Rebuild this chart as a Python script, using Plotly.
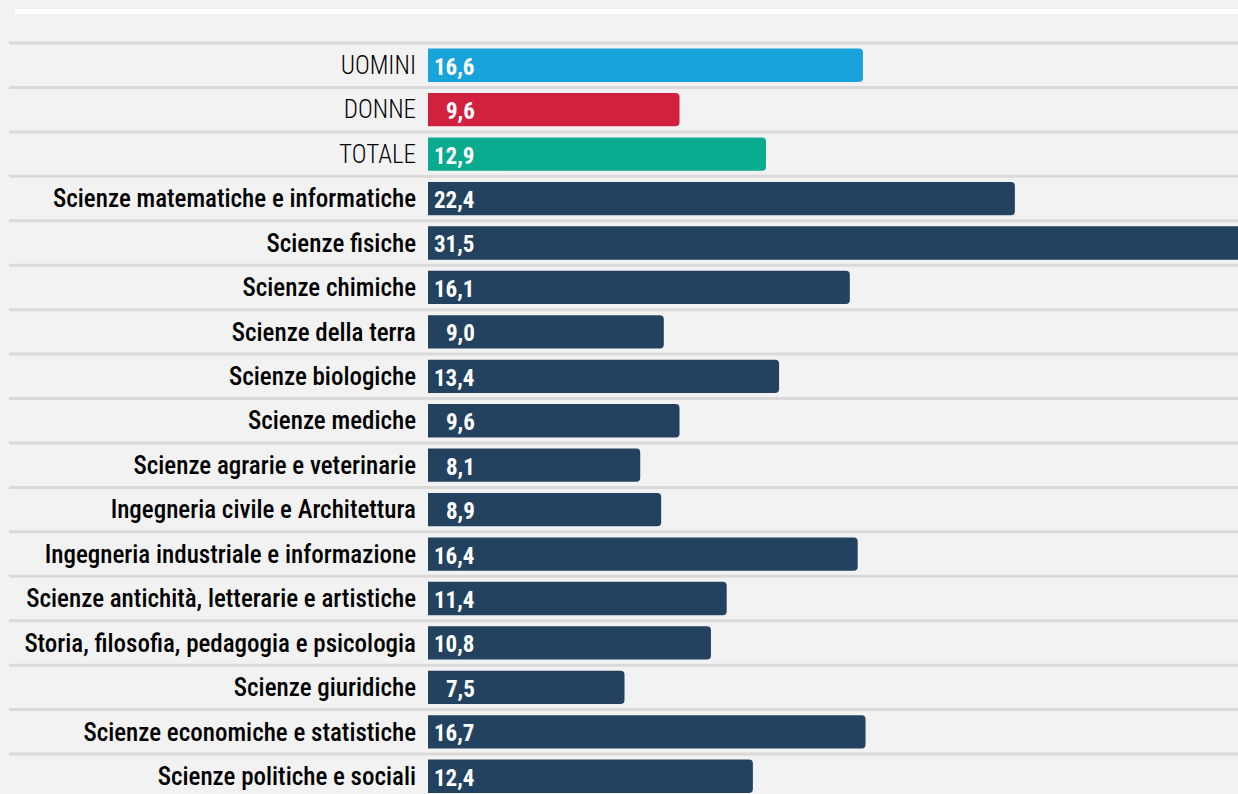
import plotly.graph_objects as go

categories = [
    "UOMINI", "DONNE", "TOTALE",
    "Scienze matematiche e informatiche",
    "Scienze fisiche",
    "Scienze chimiche",
    "Scienze della terra",
    "Scienze biologiche",
    "Scienze mediche",
    "Scienze agrarie e veterinarie",
    "Ingegneria civile e Architettura",
    "Ingegneria industriale e informazione",
    "Scienze antichità, letterarie e artistiche",
    "Storia, filosofia, pedagogia e psicologia",
    "Scienze giuridiche",
    "Scienze economiche e statistiche",
    "Scienze politiche e sociali",
]
values = [16.6, 9.6, 12.9, 22.4, 31.5, 16.1, 9.0, 13.4, 9.6, 8.1, 8.9, 16.4, 11.4, 10.8, 7.5, 16.7, 12.4]

BLUE, RED, GREEN, NAVY = "#18a4da", "#d2213f", "#08ab8e", "#22425f"
bar_colors = [BLUE, RED, GREEN] + [NAVY] * (len(categories) - 3)

W, H = 1238, 794
L, T, B, R = 428, 30, 0, 0
row_px = 44.44
plot_w = W - L - R
plot_h = H - T - B
y_top = -0.5 - (43 - T) / row_px
y_bot = y_top + plot_h / row_px
x_max = plot_w / 26.2

ypos = list(range(len(categories)))
tick_text = [
    (f'<span style="font-weight:300">{c}</span>' if i < 3 else c)
    for i, c in enumerate(categories)
]

fig = go.Figure()
fig.add_trace(go.Bar(
    x=values, y=ypos, orientation="h",
    marker=dict(color=bar_colors, line=dict(width=0)),
    width=0.75, hoverinfo="skip",
))

label_font = "Roboto Condensed, Liberation Sans Narrow, DejaVu Sans Condensed, sans-serif"

for yi, v in zip(ypos, values):
    fig.add_annotation(
        x=0, y=yi, xref="x", yref="y",
        text="<b>" + f"{v:.1f}".replace(".", ",") + "</b>",
        showarrow=False, xanchor="right", yanchor="middle",
        xshift=49, yshift=-2,
        font=dict(family=label_font, size=23, color="white"),
    )

shapes = []
shapes.append(dict(type="line", xref="paper", yref="paper",
                   x0=(15 - L) / plot_w, x1=1.02,
                   y0=1 + (T - 11.5) / plot_h, y1=1 + (T - 11.5) / plot_h,
                   line=dict(color="white", width=5), layer="below"))
for k in range(len(categories) + 1):
    yy = k - 0.5
    shapes.append(dict(type="line", xref="paper", yref="y",
                       x0=(9 - L) / plot_w, x1=1.02, y0=yy, y1=yy,
                       line=dict(color="#d9d9d9", width=3), layer="below"))

fig.update_layout(
    width=W, height=H,
    margin=dict(l=L, r=R, t=T, b=B, autoexpand=False),
    paper_bgcolor="#f2f2f2", plot_bgcolor="#f2f2f2",
    showlegend=False,
    barcornerradius=4,
    shapes=shapes,
    xaxis=dict(range=[0, x_max], visible=False, fixedrange=True, automargin=False),
    yaxis=dict(
        range=[y_bot, y_top], automargin=False,
        tickmode="array", tickvals=ypos, ticktext=tick_text,
        showgrid=False, zeroline=False, showline=False,
        ticks="outside", ticklen=6, tickcolor="rgba(0,0,0,0)",
        tickfont=dict(family=label_font, size=25, color="#000000", weight=500),
        fixedrange=True,
    ),
)

fig.write_html("out.html", config={"displayModeBar": False},
               post_script="document.body.style.margin='0';document.body.style.overflow='hidden';")
